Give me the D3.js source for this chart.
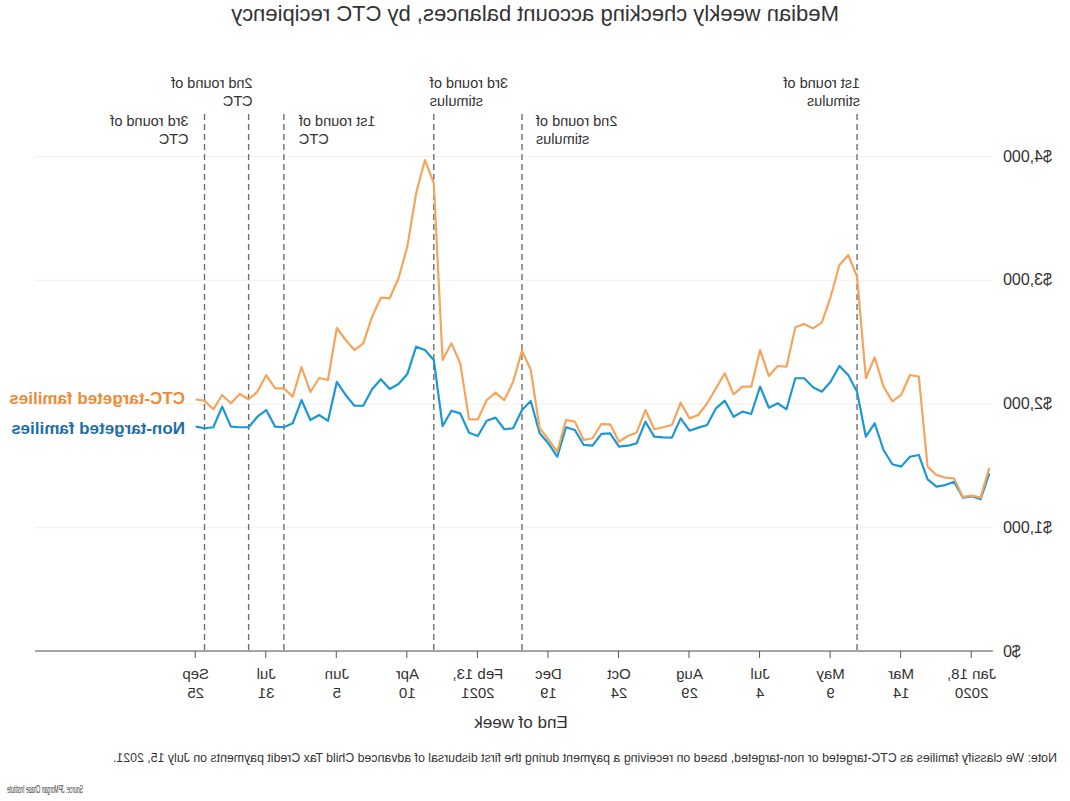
<!DOCTYPE html>
<html>
<head>
<meta charset="utf-8">
<script src="https://cdn.jsdelivr.net/npm/d3@7"></script>
<style>
  body { margin: 0; background: #fff; }
  svg { display: block; }
  text { font-family: "Liberation Sans", Arial, sans-serif; }
</style>
</head>
<body>
<svg id="chart" width="1070" height="801"></svg>
<script>
// ---------------- DATA ----------------
const titleText = "Median weekly checking account balances, by CTC recipiency";
const firstWeek = "2020-01-04"; // week-ending date of the first observation (weekly series)
const ctcTargeted = [
  1481, 1239, 1255, 1245, 1395, 1401, 1422, 1490, 2217, 2230,
  2069, 2018, 2136, 2373, 2204, 3025, 3200, 3119, 2860, 2653,
  2607, 2642, 2616, 2297, 2303, 2222, 2432, 2136, 2136, 2074,
  2244, 2123, 2002, 1907, 1880, 2006, 1826, 1808, 1792, 1947,
  1764, 1737, 1691, 1832, 1834, 1719, 1705, 1853, 1867, 1611,
  1711, 1800, 2271, 2427, 2176, 2028, 2088, 2028, 1872, 1872,
  2325, 2486, 2352, 3779, 3968, 3699, 3268, 3012, 2850, 2855,
  2701, 2486, 2432, 2513, 2610, 2190, 2206, 2093, 2295, 2055,
  2123, 2123, 2230, 2095, 2034, 2077, 2002, 2069, 1953, 2022,
  2034
];
const nonTargeted = [
  1436, 1226, 1250, 1240, 1368, 1341, 1328, 1387, 1584, 1570,
  1490, 1509, 1624, 1840, 1732, 2095, 2230, 2303, 2176, 2095,
  2131, 2204, 2204, 1953, 2002, 1966, 2136, 1915, 1934, 1893,
  2023, 1961, 1826, 1805, 1780, 1880, 1724, 1727, 1732, 1853,
  1678, 1659, 1651, 1759, 1754, 1659, 1665, 1786, 1808, 1570,
  1678, 1759, 2020, 1947, 1800, 1792, 1886, 1861, 1737, 1764,
  1920, 1942, 1818, 2352, 2432, 2459, 2238, 2158, 2117, 2196,
  2115, 1982, 1982, 2069, 2174, 1859, 1907, 1867, 2028, 1840,
  1808, 1813, 1947, 1893, 1808, 1808, 1813, 1975, 1808, 1800,
  1813
];
const seriesNames = ["CTC-targeted families", "Non-targeted families"];
const xTickDates = ["2020-01-18","2020-03-14","2020-05-09","2020-07-04","2020-08-29","2020-10-24",
                    "2020-12-19","2021-02-13","2021-04-10","2021-06-05","2021-07-31","2021-09-25"];
const xTickLabels = [["Jan 18,","2020"],["Mar","14"],["May","9"],["Jul","4"],["Aug","29"],["Oct","24"],
                     ["Dec","19"],["Feb 13,","2021"],["Apr","10"],["Jun","5"],["Jul","31"],["Sep","25"]];
const yTickValues = [0, 1000, 2000, 3000, 4000];
const eventDates = ["2020-04-18","2021-01-09","2021-03-20","2021-07-17","2021-08-14","2021-09-18"];
const eventLabels = [["1st round of","stimulus"],["2nd round of","stimulus"],["3rd round of","stimulus"],
                     ["1st round of","CTC"],["2nd round of","CTC"],["3rd round of","CTC"]];
const xAxisTitle = "End of week";
const noteText = "Note: We classify families as CTC-targeted or non-targeted, based on receiving a payment during the first disbursal of advanced Child Tax Credit payments on July 15, 2021.";
const sourceText = "Source: JPMorgan Chase Institute";

// ---------------- LAYOUT ----------------
const W = 1070, H = 801;
const parse = d3.utcParse("%Y-%m-%d");
const start = parse(firstWeek);
const weeks = ctcTargeted.map((_, i) => d3.utcDay.offset(start, 7 * i));

const x = d3.scaleUtc()
  .domain([parse("2020-01-18"), parse("2021-09-25")])
  .range([98.3, 874.3]);
const y = d3.scaleLinear().domain([0, 4000]).range([651, 156]);

const svg = d3.select("#chart");
svg.append("rect").attr("width", W).attr("height", H).attr("fill", "#fff");
// the whole picture is mirrored horizontally
const root = svg.append("g").attr("transform", `translate(${W},0) scale(-1,1)`);

// gridlines + y labels
const yAxis = d3.axisLeft(y).tickValues(yTickValues)
  .tickSize(-(1035 - 78)).tickPadding(11)
  .tickFormat(d => "$" + d3.format(",")(d));
const gy = root.append("g").attr("transform", "translate(78,0)").call(yAxis);
gy.select(".domain").remove();
gy.selectAll(".tick line").attr("stroke", "#efefef").attr("stroke-width", 1);
gy.selectAll(".tick text").attr("fill", "#333").attr("font-size", 16);

// event dashed lines
const eventLayout = [
  {row: 0, anchor: "start", dx: -3},
  {row: 1, anchor: "end",   dx: -14},
  {row: 0, anchor: "end",   dx: 4},
  {row: 1, anchor: "end",   dx: -15},
  {row: 0, anchor: "start", dx: -4},
  {row: 1, anchor: "start", dx: 16}
];
const rowBase = [88, 126];
const ev = root.append("g");
eventDates.forEach((d, i) => {
  const ex = x(parse(d));
  ev.append("line")
    .attr("x1", ex).attr("x2", ex).attr("y1", 114).attr("y2", 651)
    .attr("stroke", "#6e6e6e").attr("stroke-width", 1.4)
    .attr("stroke-dasharray", "6,4");
  const L = eventLayout[i];
  const t = ev.append("text")
    .attr("x", ex + L.dx).attr("y", rowBase[L.row])
    .attr("text-anchor", L.anchor)
    .attr("font-size", 14.5).attr("fill", "#333");
  eventLabels[i].forEach((s, k) => {
    t.append("tspan").attr("x", ex + L.dx).attr("dy", k === 0 ? 0 : 18).text(s);
  });
});

// x axis
const xAxis = d3.axisBottom(x).tickValues(xTickDates.map(parse)).tickSize(7).tickFormat("");
const gx = root.append("g").attr("transform", "translate(0,651)").call(xAxis);
gx.select(".domain").remove();
gx.selectAll(".tick line").attr("stroke", "#555");
root.append("line").attr("x1", 77).attr("x2", 1035).attr("y1", 651).attr("y2", 651)
  .attr("stroke", "#555").attr("stroke-width", 1.2);
const tl = root.append("g");
xTickDates.forEach((d, i) => {
  const tx = x(parse(d));
  const t = tl.append("text").attr("x", tx).attr("y", 678.5)
    .attr("text-anchor", "middle").attr("font-size", 15).attr("fill", "#333");
  xTickLabels[i].forEach((s, k) => {
    t.append("tspan").attr("x", tx).attr("dy", k === 0 ? 0 : 19).text(s);
  });
});
root.append("text").attr("x", 549).attr("y", 728).attr("text-anchor", "middle")
  .attr("font-size", 17).attr("fill", "#333").text(xAxisTitle);

// lines
const line = d3.line().x((d, i) => x(weeks[i])).y(d => y(d));
root.append("path").datum(nonTargeted).attr("d", line)
  .attr("fill", "none").attr("stroke", "#1b98d4").attr("stroke-width", 2.2)
  .attr("stroke-linejoin", "round");
root.append("path").datum(ctcTargeted).attr("d", line)
  .attr("fill", "none").attr("stroke", "#f5a55b").attr("stroke-width", 2.2)
  .attr("stroke-linejoin", "round");

// legend labels
root.append("text").attr("x", 885).attr("y", 404).attr("font-size", 17)
  .attr("font-weight", "bold").attr("fill", "#ee8b36").text(seriesNames[0]);
root.append("text").attr("x", 885).attr("y", 434).attr("font-size", 17)
  .attr("font-weight", "bold").attr("fill", "#1f6ea8").text(seriesNames[1]);

// title, note, source
root.append("text").attr("x", 535).attr("y", 21).attr("text-anchor", "middle")
  .attr("font-size", 22).attr("fill", "#333").text(titleText);
root.append("text").attr("x", 13).attr("y", 762).attr("font-size", 13)
  .attr("fill", "#333").attr("textLength", 944).attr("lengthAdjust", "spacingAndGlyphs")
  .text(noteText);
root.append("g").attr("transform", "translate(1063,793) scale(0.5,1)")
  .append("text").attr("x", 0).attr("y", 0).attr("text-anchor", "end").attr("font-size", 10)
  .attr("fill", "#333").text(sourceText);
</script>
</body>
</html>
